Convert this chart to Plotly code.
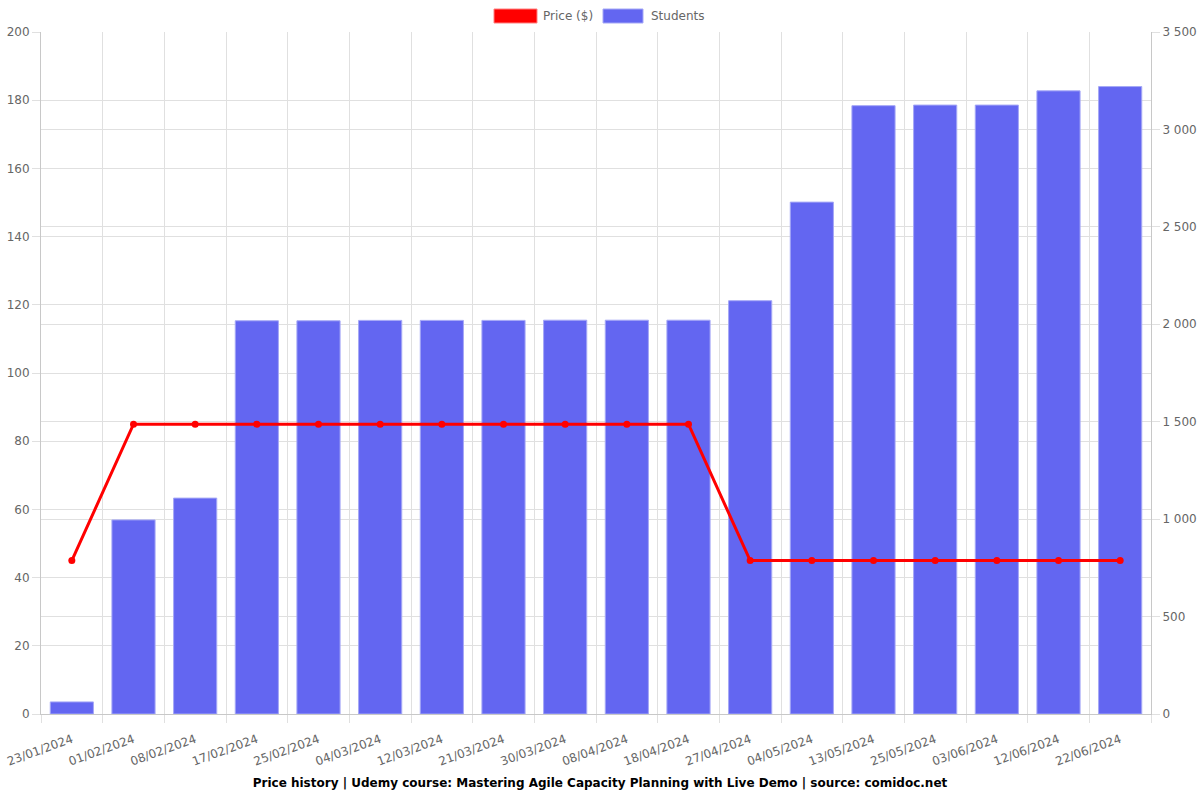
import plotly.graph_objects as go

dates = ["23/01/2024", "01/02/2024", "08/02/2024", "17/02/2024", "25/02/2024", "04/03/2024",
         "12/03/2024", "21/03/2024", "30/03/2024", "08/04/2024", "18/04/2024", "27/04/2024",
         "04/05/2024", "13/05/2024", "25/05/2024", "03/06/2024", "12/06/2024", "22/06/2024"]
price = [44.99, 84.99, 84.99, 84.99, 84.99, 84.99, 84.99, 84.99, 84.99, 84.99, 84.99,
         44.99, 44.99, 44.99, 44.99, 44.99, 44.99, 44.99]
students = [62, 996, 1108, 2018, 2018, 2020, 2020, 2020, 2021, 2021, 2021, 2121,
            2627, 3122, 3125, 3125, 3198, 3220]

title = "Price history | Udemy course: Mastering Agile Capacity Planning with Live Demo | source: comidoc.net"

W, H = 1200, 800
ML, MR, MT, MB = 41, 49, 32, 86
PW, PH = W - ML - MR, H - MT - MB

def px_x(x):
    return (x - ML) / PW

def px_y(y):
    return (H - MB - y) / PH

fig = go.Figure()
fig.add_trace(go.Bar(x=dates, y=students, name="Students", yaxis="y",
                     marker=dict(color="#6366f1", line=dict(color="#a5a8f6", width=1)),
                     showlegend=False))
fig.add_trace(go.Scatter(x=dates, y=price, name="Price ($)", mode="lines+markers",
                         yaxis="y2",
                         line=dict(color="#ff0000", width=3),
                         marker=dict(color="#ff0000", size=7), showlegend=False))

# manual legend (rectangular swatches)
legend_items = [("Price ($)", "#ff0000", "#ff8080", 494, 537, 541),
                ("Students", "#6366f1", "#a5a8f6", 603, 643, 649)]
for label, fill, edge, x0, x1, tx in legend_items:
    fig.add_shape(type="rect", xref="paper", yref="paper",
                  x0=px_x(x0), x1=px_x(x1), y0=px_y(23), y1=px_y(9),
                  fillcolor=fill, line=dict(color=edge, width=1))
    fig.add_annotation(text=label, xref="paper", yref="paper", x=px_x(tx), y=px_y(16),
                       xanchor="left", yanchor="middle", showarrow=False,
                       font=dict(family="DejaVu Sans", size=12, color="#666666"))

axis_font = dict(family="DejaVu Sans", size=12, color="#666666")
fig.update_layout(
    width=W, height=H,
    margin=dict(l=ML, r=MR, t=MT, b=MB),
    paper_bgcolor="white", plot_bgcolor="white",
    barmode="overlay", bargap=0.3,
    separators=". ",
    showlegend=False,
    font=dict(family="DejaVu Sans", size=12, color="#666666"),
    title=dict(text="<b>" + title + "</b>", x=0.5, xanchor="center", y=0.016, yanchor="bottom",
               font=dict(family="DejaVu Sans", size=12, color="#000000")),
    xaxis=dict(type="category", tickson="boundaries", showgrid=True, gridcolor="#e0e0e0",
               range=[-0.5, len(dates) - 0.5],
               ticks="outside", ticklen=8, tickcolor="#e0e0e0", tickangle=-20,
               ticklabelstandoff=13,
               tickfont=axis_font, showline=True, linecolor="#c8c8c8", automargin=False),
    yaxis=dict(range=[0, 3500], dtick=500, side="right",
               showgrid=True, gridcolor="#e0e0e0", ticks="outside", ticklen=8,
               tickcolor="#e0e0e0", tickfont=axis_font, showline=True,
               linecolor="#c8c8c8", zeroline=False, tickformat=",d", automargin=False),
    yaxis2=dict(range=[0, 200], dtick=20, overlaying="y", side="left",
                showgrid=True, gridcolor="#e0e0e0",
                ticks="outside", ticklen=8, tickcolor="#e0e0e0", tickfont=axis_font,
                showline=True, linecolor="#c8c8c8", zeroline=False, automargin=False),
)

fig.write_html("out.html")
